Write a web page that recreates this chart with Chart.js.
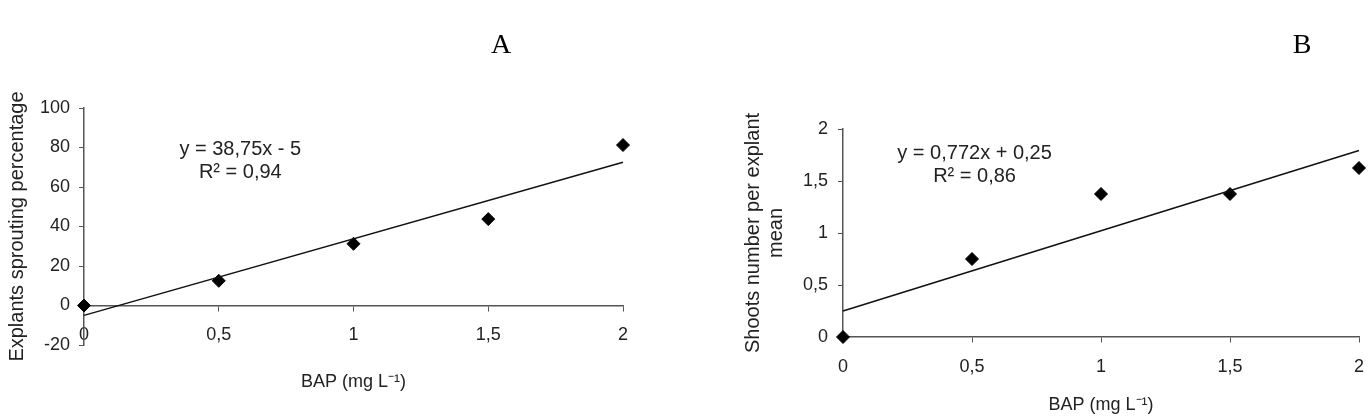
<!DOCTYPE html>
<html>
<head>
<meta charset="utf-8">
<script src="https://cdn.jsdelivr.net/npm/chart.js@4/dist/chart.umd.min.js"></script>
<style>
  html, body { margin: 0; padding: 0; background: #fff; }
  .panel { position: absolute; top: 0; width: 685px; height: 417px; }
  #panel-a { left: 0; }
  #panel-b { left: 685px; }
</style>
</head>
<body>
<div class="panel" id="panel-a"><canvas id="chart-a"></canvas></div>
<div class="panel" id="panel-b"><canvas id="chart-b"></canvas></div>
<script>
// doses of BAP (mg L-1)
const bapDoses = [0, 0.5, 1, 1.5, 2];

// A: explants sprouting percentage
const sproutingPct = [0, 12.5, 31.25, 43.75, 81.25];
const trendA = [-5, 72.5];          // fitted line at x = 0 and x = 2
const eqA = ['y = 38,75x - 5', 'R² = 0,94'];

// B: shoots number per explant
const shootsMean = [0, 0.75, 1.375, 1.375, 1.625];
const trendB = [0.25, 1.794];
const eqB = ['y = 0,772x + 0,25', 'R² = 0,86'];

const trendX = [0, 2];

const FONT = 'Liberation Sans, Arial, sans-serif';
const axisColor = '#555';
const text = '#222';

Chart.defaults.font.family = FONT;
Chart.defaults.font.size = 18;
Chart.defaults.color = text;

const comma = v => String(v).replace('.', ',');

// draws the regression equation and the panel letter
const labelPlugin = {
  id: 'eqLabels',
  afterDatasetsDraw(chart, args, opts) {
    const { ctx, scales } = chart;
    ctx.save();
    ctx.fillStyle = text;
    ctx.textAlign = 'center';
    ctx.textBaseline = 'middle';
    ctx.font = '20px ' + FONT;
    const cx = scales.x.getPixelForValue(opts.at[0]);
    const cy = scales.y.getPixelForValue(opts.at[1]);
    opts.lines.forEach((l, i) => ctx.fillText(l, cx, cy + i * 23));
    ctx.fillStyle = '#000';
    ctx.font = '28px Liberation Serif, Times New Roman, serif';
    ctx.fillText(opts.letter, opts.letterPos[0], opts.letterPos[1]);
    ctx.restore();
  }
};

function makeChart(id, cfg) {
  const pts = bapDoses.map((x, i) => ({ x, y: cfg.values[i] }));
  const line = trendX.map((x, i) => ({ x, y: cfg.trend[i] }));
  return new Chart(document.getElementById(id), {
    type: 'scatter',
    data: {
      datasets: [
        {
          data: line,
          showLine: true,
          borderColor: '#111',
          borderWidth: 1.5,
          pointRadius: 0,
          clip: false,
        },
        {
          data: pts,
          pointStyle: 'rectRot',
          pointRadius: 6.5,
          pointHoverRadius: 6.5,
          backgroundColor: '#000',
          borderColor: '#000',
          clip: false,
        },
      ],
    },
    plugins: [labelPlugin],
    options: {
      responsive: true,
      maintainAspectRatio: false,
      animation: false,
      layout: { padding: cfg.padding },
      plugins: {
        legend: { display: false },
        tooltip: { enabled: false },
        eqLabels: { lines: cfg.eq, at: cfg.eqAt, letter: cfg.letter, letterPos: cfg.letterPos },
      },
      scales: {
        x: {
          type: 'linear',
          position: { y: 0 },
          min: 0, max: 2,
          ticks: { stepSize: 0.5, padding: cfg.xTickPad, color: text, callback: comma },
          grid: { drawOnChartArea: false, tickLength: 5, color: axisColor },
          border: { color: axisColor, width: 1.5 },
          title: { display: true, text: 'BAP (mg L⁻¹)', color: text, padding: { top: cfg.xTitlePad, bottom: 0 } },
          afterFit: s => { s.paddingLeft = 0; s.paddingRight = 0; },
        },
        y: {
          min: cfg.yMin, max: cfg.yMax,
          ticks: { stepSize: cfg.yStep, padding: cfg.yTickPad, color: text, callback: comma },
          grid: { drawOnChartArea: false, tickLength: 5, color: axisColor },
          border: { color: axisColor, width: 1.5 },
          title: {
            display: true, text: cfg.yTitle, color: text,
            font: { size: 20, lineHeight: 1.15 },
            padding: { top: cfg.yTitlePad, bottom: 0 },
          },
          afterFit: s => { s.width = cfg.yWidth; },
        },
      },
    },
  });
}

makeChart('chart-a', {
  values: sproutingPct, trend: trendA, eq: eqA, eqAt: [0.58, 79],
  letter: 'A', letterPos: [501, 46],
  yMin: -20, yMax: 100, yStep: 20, yWidth: 84,
  yTitle: 'Explants sprouting percentage', yTitlePad: 6,
  yTickPad: 9, xTickPad: 14, xTitlePad: 11,
  padding: { top: 108, right: 62, bottom: 72, left: 0 },
});

makeChart('chart-b', {
  values: shootsMean, trend: trendB, eq: eqB, eqAt: [0.51, 1.76],
  letter: 'B', letterPos: [617, 46],
  yMin: 0, yMax: 2, yStep: 0.5, yWidth: 158,
  yTitle: ['Shoots number per explant', 'mean'], yTitlePad: 57,
  yTickPad: 10, xTickPad: 14, xTitlePad: 3,
  padding: { top: 129, right: 11, bottom: 80, left: 0 },
});
</script>
</body>
</html>
